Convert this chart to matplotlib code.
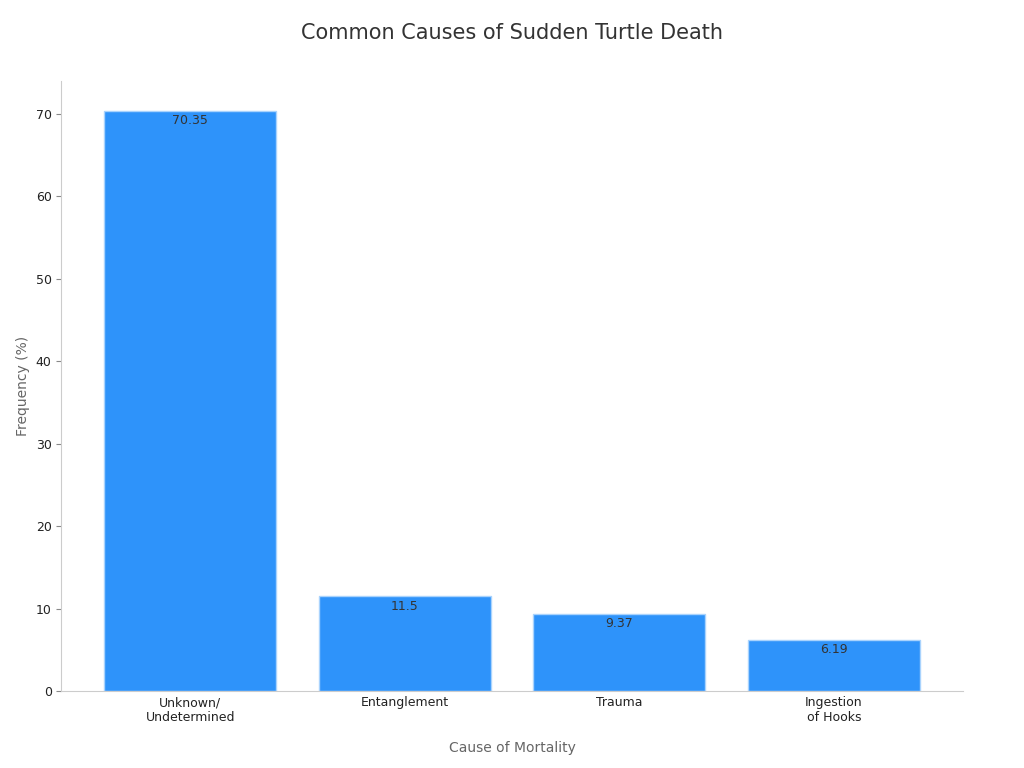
import matplotlib.pyplot as plt

categories = ["Unknown/\nUndetermined", "Entanglement", "Trauma", "Ingestion\nof Hooks"]
values = [70.35, 11.5, 9.37, 6.19]
labels = ["70.35", "11.5", "9.37", "6.19"]

fig, ax = plt.subplots(figsize=(10.24, 7.68), dpi=100)
fig.subplots_adjust(left=0.06, right=0.94, top=0.895, bottom=0.1)

bars = ax.bar(range(len(values)), values, width=0.8, color="#2e93fa", edgecolor="#a9d3fd", linewidth=1)
for b, lab in zip(bars, labels):
    ax.text(b.get_x() + b.get_width() / 2, b.get_height() - 0.4, lab,
            ha="center", va="top", fontsize=9, color="#333333")

ax.set_xticks(range(len(values)))
ax.set_xticklabels(categories, fontsize=9, color="#222222")
ax.tick_params(axis="y", labelsize=9, colors="#222222")
ax.tick_params(axis="x", length=0)
ax.set_xlim(-0.6, 3.6)
ax.set_ylim(0, 74)
ax.set_yticks(range(0, 71, 10))
ax.set_xlabel("Cause of Mortality", fontsize=10, color="#666666", labelpad=12)
ax.set_ylabel("Frequency (%)", fontsize=10, color="#666666")
for s in ["top", "right"]:
    ax.spines[s].set_visible(False)
for s in ["left", "bottom"]:
    ax.spines[s].set_color("#cccccc")
ax.tick_params(axis="y", color="#888888")
fig.suptitle("Common Causes of Sudden Turtle Death", fontsize=15, color="#333333", y=0.97)

fig.savefig("out.png")
